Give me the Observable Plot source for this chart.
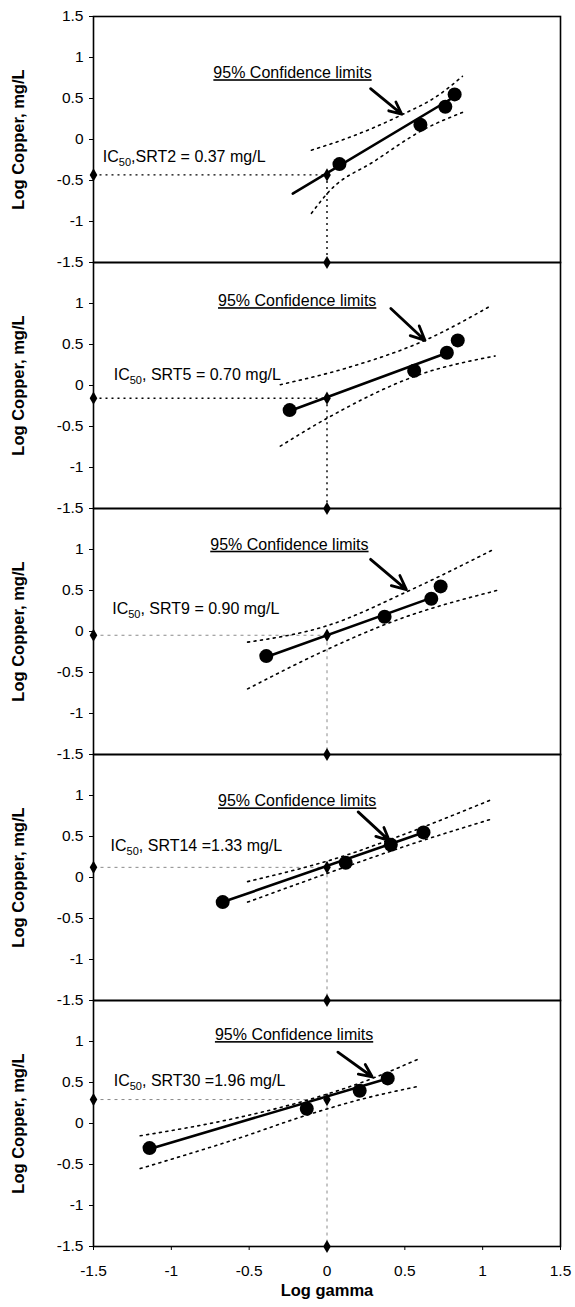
<!DOCTYPE html>
<html>
<head>
<meta charset="utf-8">
<script src="https://cdn.jsdelivr.net/npm/d3@7"></script>
<script src="https://cdn.jsdelivr.net/npm/@observablehq/plot@0.6"></script>
<style>
  html, body { margin: 0; padding: 0; background: #fff; }
  #chart { width: 575px; height: 1307px; }
</style>
</head>
<body>
<div id="chart"></div>
<script>
// ---- data ----
const panels = ["SRT2", "SRT5", "SRT9", "SRT14", "SRT30"];
const ic50mgL = [0.37, 0.70, 0.90, 1.33, 1.96];
const ic50Labels = [
  "IC50,SRT2 = 0.37 mg/L",
  "IC50, SRT5 = 0.70 mg/L",
  "IC50, SRT9 = 0.90 mg/L",
  "IC50, SRT14 =1.33 mg/L",
  "IC50, SRT30 =1.96 mg/L"
];
const confLabel = "95% Confidence limits";
const xTicks = [-1.5, -1, -0.5, 0, 0.5, 1, 1.5];
const yTicks = [-1.5, -1, -0.5, 0, 0.5, 1];
const yTopTick = [1.5];
const referenceLogGamma = 0;

// measured points: log copper (same in all panels) vs log gamma per panel
const logCopper = [-0.30, 0.18, 0.40, 0.55];
const logGammaSRT2 = [0.08, 0.60, 0.76, 0.82];
const logGammaSRT5 = [-0.24, 0.56, 0.77, 0.84];
const logGammaSRT9 = [-0.39, 0.37, 0.67, 0.73];
const logGammaSRT14 = [-0.67, 0.12, 0.41, 0.62];
const logGammaSRT30 = [-1.14, -0.13, 0.21, 0.39];

// fitted regression line ends
const fitGamma = [[-0.22, 0.80], [-0.24, 0.76], [-0.39, 0.67], [-0.67, 0.62], [-1.14, 0.39]];
const fitCopper = [[-0.66, 0.50], [-0.31, 0.39], [-0.31, 0.41], [-0.30, 0.55], [-0.31, 0.55]];

// 95% confidence limits (upper / lower)
const upperGamma = [
  [-0.10, 0.15, 0.49, 0.70, 0.87],
  [-0.30, 0.12, 0.64, 1.06],
  [-0.51, 0.00, 0.53, 1.08],
  [-0.51, 0.12, 0.50, 1.07],
  [-1.20, -0.60, -0.10, 0.25, 0.58]
];
const upperCopper = [
  [-0.13, 0.03, 0.31, 0.52, 0.77],
  [0.01, 0.21, 0.56, 0.98],
  [-0.13, 0.07, 0.50, 1.01],
  [-0.05, 0.27, 0.53, 0.96],
  [-0.15, 0.06, 0.30, 0.52, 0.78]
];
const lowerGamma = [
  [-0.10, 0.02, 0.30, 0.62, 0.87],
  [-0.30, 0.00, 0.59, 1.08],
  [-0.51, 0.00, 0.42, 1.09],
  [-0.51, 0.12, 0.50, 1.07],
  [-1.20, -0.60, -0.10, 0.25, 0.58]
];
const lowerCopper = [
  [-0.90, -0.62, -0.27, 0.12, 0.33],
  [-0.74, -0.40, 0.13, 0.36],
  [-0.70, -0.22, 0.12, 0.50],
  [-0.30, 0.13, 0.38, 0.72],
  [-0.55, -0.20, 0.12, 0.31, 0.45]
];

// annotation anchors (data units)
const confLabelGamma = [-0.73, -0.70, -0.75, -0.70, -0.72];
const confLabelCopper = [0.81, 1.03, 1.06, 0.93, 1.08];
const icLabelGamma = [-1.44, -1.37, -1.38, -1.39, -1.37];
const icLabelCopper = [-0.21, 0.13, 0.28, 0.38, 0.52];
const arrowFromGamma = [0.28, 0.41, 0.28, 0.20, 0.07];
const arrowFromCopper = [0.62, 0.94, 0.88, 0.80, 0.87];
const arrowToGamma = [0.48, 0.63, 0.51, 0.40, 0.29];
const arrowToCopper = [0.31, 0.55, 0.51, 0.45, 0.57];

// ---- tables built from the arrays ----
const gammaByPanel = [logGammaSRT2, logGammaSRT5, logGammaSRT9, logGammaSRT14, logGammaSRT30];
const xMin = xTicks[0], xMax = xTicks[xTicks.length - 1];
const yMin = yTicks[0], yMax = yTopTick[0];

const points = panels.flatMap((p, i) => gammaByPanel[i].map((g, j) => ({panel: p, g, c: logCopper[j]})));
const fits = panels.flatMap((p, i) => fitGamma[i].map((g, j) => ({panel: p, g, c: fitCopper[i][j]})));
const bands = panels.flatMap((p, i) => [
  ...upperGamma[i].map((g, j) => ({panel: p, side: "upper", g, c: upperCopper[i][j]})),
  ...lowerGamma[i].map((g, j) => ({panel: p, side: "lower", g, c: lowerCopper[i][j]}))
]);
const ics = panels.map((p, i) => ({
  panel: p, ic: Math.log10(ic50mgL[i]), strong: i < 2,
  label: ic50Labels[i], lx: icLabelGamma[i], ly: icLabelCopper[i],
  cx: confLabelGamma[i], cy: confLabelCopper[i],
  ax1: arrowFromGamma[i], ay1: arrowFromCopper[i], ax2: arrowToGamma[i], ay2: arrowToCopper[i]
}));
const diamonds = ics.flatMap(d => [
  {panel: d.panel, g: xMin, c: d.ic},
  {panel: d.panel, g: referenceLogGamma, c: d.ic},
  {panel: d.panel, g: referenceLogGamma, c: yMin}
]);
const strongIcs = ics.filter(d => d.strong);
const faintIcs = ics.filter(d => !d.strong);

const font = "'Liberation Sans', Arial, Helvetica, sans-serif";

const chart = Plot.plot({
  width: 575,
  height: 1307,
  marginTop: 14,
  marginBottom: 59,
  marginLeft: 93,
  marginRight: 15,
  style: {fontFamily: font, fontSize: "15.5px", color: "#000", background: "#fff", overflow: "visible"},
  x: {domain: [xMin, xMax]},
  y: {domain: [yMin, yMax]},
  fy: {domain: panels, padding: 0, axis: null},
  marks: [
    // IC50 reference lines
    Plot.link(strongIcs, {fy: "panel", x1: xMin, x2: referenceLogGamma, y1: "ic", y2: "ic",
      stroke: "#000", strokeWidth: 1.4, strokeDasharray: "2,4"}),
    Plot.link(strongIcs, {fy: "panel", x1: referenceLogGamma, x2: referenceLogGamma, y1: "ic", y2: yMin,
      stroke: "#000", strokeWidth: 1.4, strokeDasharray: "2,4"}),
    Plot.link(faintIcs, {fy: "panel", x1: xMin, x2: referenceLogGamma, y1: "ic", y2: "ic",
      stroke: "#8a8a8a", strokeWidth: 1, strokeDasharray: "3,4"}),
    Plot.link(faintIcs, {fy: "panel", x1: referenceLogGamma, x2: referenceLogGamma, y1: "ic", y2: yMin,
      stroke: "#8a8a8a", strokeWidth: 1, strokeDasharray: "3,4"}),
    // confidence limits
    Plot.line(bands, {fy: "panel", x: "g", y: "c", z: "side", curve: "monotone-x",
      stroke: "#000", strokeWidth: 1.6, strokeDasharray: "2,4.5"}),
    // regression line
    Plot.line(fits, {fy: "panel", x: "g", y: "c", stroke: "#000", strokeWidth: 2.6}),
    // measured points
    Plot.dot(points, {fy: "panel", x: "g", y: "c", r: 7, fill: "#000"}),
    // diamonds
    Plot.dot(diamonds, {fy: "panel", x: "g", y: "c", symbol: "diamond", r: 4, fill: "#000"}),
    // arrows
    Plot.arrow(ics, {fy: "panel", x1: "ax1", y1: "ay1", x2: "ax2", y2: "ay2",
      stroke: "#000", strokeWidth: 2.8, headLength: 11, headAngle: 50}),
    // labels
    Plot.text(ics, {fy: "panel", x: "cx", y: "cy", text: () => confLabel, textAnchor: "start",
      fontSize: 16, fill: "#000"}),
    Plot.text(ics, {fy: "panel", x: "lx", y: "ly", text: "label", textAnchor: "start",
      fontSize: 16, fill: "#000"}),
    // frame and axes
    Plot.frame({stroke: "#000", strokeWidth: 1.6}),
    Plot.axisY({ticks: yTicks, tickSize: 4, tickPadding: 6, tickFormat: d => String(d), label: null, fontSize: 15.5}),
    Plot.axisY({ticks: yTopTick, facetAnchor: "top", tickSize: 4, tickPadding: 6, tickFormat: d => String(d), label: null, fontSize: 15.5}),
    Plot.axisX({ticks: xTicks, tickSize: 4, tickPadding: 14, tickFormat: d => String(d), label: null, fontSize: 15.5}),
    Plot.text(panels, {fy: d => d, frameAnchor: "left", textAnchor: "middle", lineAnchor: "middle",
      text: () => "Log Copper, mg/L", rotate: -90,
      dx: -75, fontWeight: "bold", fontSize: 16.5, fill: "#000"}),
    Plot.text(panels.slice(-1), {fy: d => d, frameAnchor: "bottom", textAnchor: "middle", lineAnchor: "middle",
      text: () => "Log gamma", dy: 44, fontWeight: "bold", fontSize: 16.5, fill: "#000"})
  ]
});

// underline the confidence label and subscript the "50" in IC50
const NS = "http://www.w3.org/2000/svg";
chart.querySelectorAll("text").forEach(t => {
  const s = t.textContent;
  if (s === confLabel) {
    t.setAttribute("text-decoration", "underline");
  } else if (s.startsWith("IC50")) {
    const rest = s.slice(4);
    while (t.firstChild) t.removeChild(t.firstChild);
    const a = document.createElementNS(NS, "tspan"); a.textContent = "IC";
    const b = document.createElementNS(NS, "tspan"); b.textContent = "50";
    b.setAttribute("font-size", "11"); b.setAttribute("dy", "4");
    const c = document.createElementNS(NS, "tspan"); c.textContent = rest; c.setAttribute("dy", "-4");
    t.append(a, b, c);
  }
});

document.getElementById("chart").append(chart);
</script>
</body>
</html>
